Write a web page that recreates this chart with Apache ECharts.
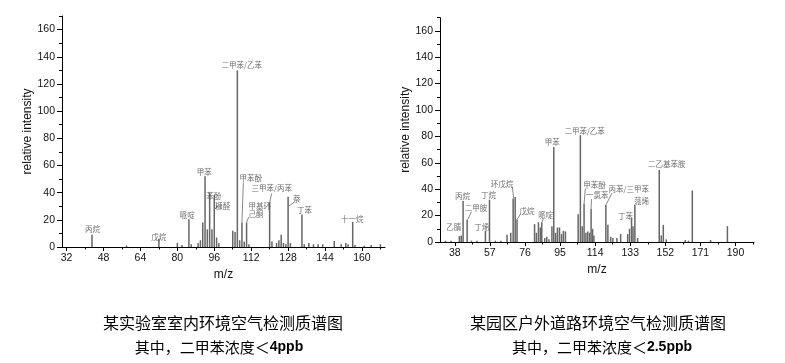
<!DOCTYPE html>
<html><head><meta charset="utf-8">
<script src="https://cdn.jsdelivr.net/npm/echarts@6/dist/echarts.min.js"></script>
<style>html,body{margin:0;padding:0;background:#fff}#c{width:785px;height:363px}</style>
</head><body><div id="c"></div>
<script>
// ---- data: left spectrum (indoor lab air) ----
const leftMz = [43, 58, 72, 80, 82, 85, 86, 89, 90, 91, 92, 93, 94, 95, 96, 97, 98,
  104, 105, 106, 107, 108, 109, 110, 111, 120, 121, 123, 124, 125, 126, 127, 128, 129,
  134, 135, 137, 139, 141, 143, 148, 151, 153, 154, 156, 157, 161, 164, 168];
const leftIntensity = [9, 1, 6, 3, 1.5, 20.5, 2, 3, 5, 18, 52, 13, 40, 13, 38, 7, 3,
  12, 11, 130, 5, 18, 4, 18, 2, 33, 4, 3, 5, 9, 3, 2, 37, 3,
  24, 2, 3, 2, 2, 2, 4.5, 2, 3, 2, 18.5, 1.5, 1, 1.5, 2];
// ---- data: right spectrum (outdoor road air) ----
const rightMz = [33, 36, 40.5, 41.5, 42.5, 44.7, 47, 50, 54.6, 56.8, 60, 63, 66.3, 68.3, 69.6, 70.7, 71.7,
  81.2, 82.2, 83.3, 84.3, 85.1, 86.7, 87.8, 89, 90.6, 91.6, 92.6, 93.6, 94.7, 95.8, 96.8, 97.9,
  104.8, 106, 107, 108, 109, 110, 111, 111.8, 112.6, 113.3, 119.8, 120.9, 122.4, 123.6, 125.8, 127.8,
  131.6, 132.6, 133.7, 134.5, 135.5, 137, 148.7, 149.8, 150.9, 152.5, 162.8, 164.5, 166.6, 176.5, 185.6];
const rightIntensity = [1, 1, 4.5, 5, 31, 17, 1, 1, 8.5, 32, 1, 1, 5.5, 7, 33, 34, 17,
  13.5, 7, 15, 11, 15, 3, 4, 2, 12, 72, 7, 11, 11, 6, 8.5, 8,
  21, 81, 12, 29, 7, 8, 7, 25, 10, 5, 28, 13, 4, 3, 3, 6,
  6, 10, 18, 12, 28, 3, 54.5, 5, 13, 2, 1.5, 1, 39, 1.5, 12];
// ---- tick labels ----
const leftXTicks = [32, 48, 64, 80, 96, 112, 128, 144, 160];
const leftXMinor = [40, 56, 72, 88, 104, 120, 136, 152, 168];
const rightXTicks = [38, 57, 76, 95, 114, 133, 152, 171, 190];
const rightXMinor = [47.5, 66.5, 85.5, 104.5, 123.5, 142.5, 161.5, 180.5, 199.5];
const yTicks = [0, 20, 40, 60, 80, 100, 120, 140, 160];
const yMinor = [10, 30, 50, 70, 90, 110, 130, 150, 170];
// ---- peak names ----
const leftNames = ['丙烷', '戊烷', '哌啶', '甲苯', '苯酚', '糠醛', '二甲苯/乙苯', '甲苯酚', '甲基环\n己酮', '三甲苯/丙苯', '萘', '丁苯', '十一烷'];
const rightNames = ['乙腈', '丙烷', '二甲胺', '丁烯', '丁烷', '环戊烷', '戊烷', '哌啶', '甲苯', '二甲苯/乙苯', '甲苯酚', '一氯苯', '丙苯/三甲苯', '丁苯', '蒎烯', '二乙基苯胺'];
const captions = [
  ['某实验室室内环境空气检测质谱图', '其中，二甲苯浓度＜', '4ppb'],
  ['某园区户外道路环境空气检测质谱图', '其中，二甲苯浓度＜', '2.5ppb']
];

// ---- annotation placement (data coordinates) ----
const leftLabelPos = [[43.2,13.2],[71.9,7.6],[84.3,23.1],[91.7,55.4],[95.8,37.4],[99.7,30.3],[107.9,133.6],[111.8,50.9],[110.8,27,'left'],[120.9,43.1],[131.7,35.2],[135.1,27.2],[155.8,20.3]];
const leftLeaders = [[[108,18],[108.6,47.5]],[[110,18],[110.9,22]],[[120,33],[120.9,39.5]],[[128.3,30],[130.7,33]],[[96.3,28],[97.6,30]]];
const rightLabelPos = [[37.5,11.1],[42.2,34.8],[49.5,26],[52.6,11.6],[56.3,35.6],[63.5,43.9],[77.1,23.5],[87.2,20.5],[90.8,75.5],[108.3,84.3],[113.6,43.2],[115.1,35.6],[132.2,40.4],[130.4,19.9],[139.1,31.3],[152.7,59]];
const rightLeaders = [[[45.1,17.2],[47,22.9]],[[69.9,33],[69.2,41.5]],[[71.7,17],[73.5,21]],[[85.2,15],[85.9,17.5]],[[108,29],[108.7,40.5]],[[111.8,25],[112,32.5]],[[119.8,28],[123.1,37]]];

const FONT = 'Liberation Sans, Arial, sans-serif';
const CJK = 'Noto Sans CJK SC, sans-serif';
const grids = [
  {left: 62, top: 16, width: 323, height: 231},
  {left: 440, top: 17.6, width: 314, height: 224.4}
];
const xr = [[30, 170], [30, 200]];

const option = {animation: false, backgroundColor: '#fff', grid: [], xAxis: [], yAxis: [], series: [], graphic: []};
[0, 1].forEach(i => {
  option.grid.push(Object.assign({containLabel: false}, grids[i]));
  option.grid.push(Object.assign({containLabel: false}, grids[i]));
  const g = i * 2, gm = i * 2 + 1;
  const majX = i === 0 ? leftXTicks : rightXTicks;
  const minX = i === 0 ? leftXMinor : rightXMinor;
  option.xAxis.push({
    type: 'value', gridIndex: g, min: xr[i][0], max: xr[i][1],
    axisLine: {show: true, lineStyle: {color: '#000', width: 1}},
    axisTick: {show: true, length: 4, customValues: majX, lineStyle: {color: '#000'}},
    axisLabel: {customValues: majX, margin: 6, fontSize: 10.5, color: '#111', fontFamily: FONT},
    splitLine: {show: false},
    name: 'm/z', nameLocation: 'middle', nameGap: i === 0 ? 15 : 17,
    nameTextStyle: {fontSize: 12, color: '#111', fontFamily: FONT}
  });
  option.xAxis.push({
    type: 'value', gridIndex: gm, min: xr[i][0], max: xr[i][1],
    axisLine: {show: false}, axisLabel: {show: false}, splitLine: {show: false},
    axisTick: {show: true, length: 2.5, customValues: minX, lineStyle: {color: '#000'}}
  });
  option.yAxis.push({
    type: 'value', gridIndex: g, min: 0, max: 170,
    axisLine: {show: true, lineStyle: {color: '#000', width: 1}},
    axisTick: {show: true, length: 5, customValues: yTicks, lineStyle: {color: '#000'}},
    axisLabel: {customValues: yTicks, margin: 7, fontSize: 10.5, color: '#111', fontFamily: FONT},
    splitLine: {show: false},
    name: 'relative intensity', nameLocation: 'middle', nameGap: i === 0 ? 25 : 23, nameRotate: 90,
    nameTextStyle: {fontSize: 12, color: '#111', fontFamily: FONT}
  });
  option.yAxis.push({
    type: 'value', gridIndex: gm, min: 0, max: 170,
    axisLine: {show: false}, axisLabel: {show: false}, splitLine: {show: false},
    axisTick: {show: true, length: 3, customValues: yMinor, lineStyle: {color: '#000'}}
  });
  const mz = i === 0 ? leftMz : rightMz;
  const it = i === 0 ? leftIntensity : rightIntensity;
  option.series.push({
    type: 'bar', xAxisIndex: g, yAxisIndex: g, barWidth: 1.5, silent: true,
    itemStyle: {color: '#666'},
    data: mz.map((m, k) => [m, it[k]])
  });
  const names = i === 0 ? leftNames : rightNames;
  const pos = i === 0 ? leftLabelPos : rightLabelPos;
  option.series.push({
    type: 'scatter', xAxisIndex: g, yAxisIndex: g, symbolSize: 0, silent: true,
    data: names.map((n, k) => ({
      name: n, value: [pos[k][0], pos[k][1]],
      label: {show: true, position: 'inside', formatter: '{b}', fontSize: 7.5, lineHeight: 8.5,
        color: '#4a4a4a', fontFamily: CJK, align: pos[k][2] || 'center', verticalAlign: 'middle'}
    }))
  });
  const leaders = i === 0 ? leftLeaders : rightLeaders;
  option.series.push({
    type: 'lines', coordinateSystem: 'cartesian2d', xAxisIndex: g, yAxisIndex: g, silent: true,
    lineStyle: {color: '#555', width: 0.7, opacity: 1},
    data: leaders.map(c => ({coords: c}))
  });
  const cx = i === 0 ? 223 : 598;
  const cx2 = i === 0 ? 219 : 602;
  option.graphic.push({
    type: 'text', x: cx, y: 323,
    style: {text: captions[i][0], font: '16px ' + CJK, fill: '#000', align: 'center', verticalAlign: 'middle'}
  });
  option.graphic.push({
    type: 'text', x: cx2, y: 347,
    style: {text: captions[i][1] + '{b|' + captions[i][2] + '}', font: '15px ' + CJK, fill: '#000',
      align: 'center', verticalAlign: 'middle',
      rich: {b: {fontWeight: 'bold', fontSize: 14, fontFamily: FONT, fill: '#000'}}}
  });
});

const chart = echarts.init(document.getElementById('c'), null, {renderer: 'canvas'});
chart.setOption(option);
</script>
</body></html>
